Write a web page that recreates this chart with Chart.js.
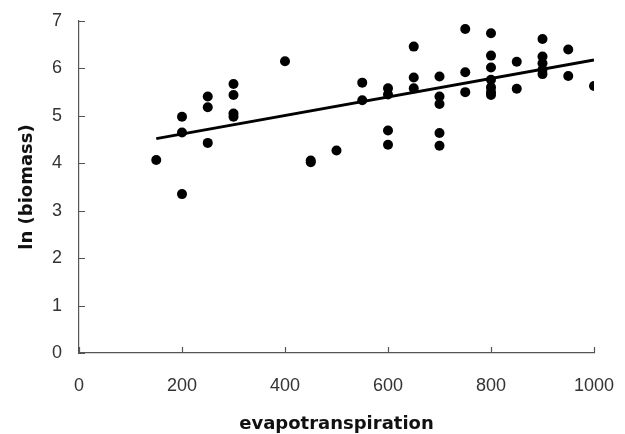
<!DOCTYPE html>
<html>
<head>
<meta charset="utf-8">
<script src="https://cdn.jsdelivr.net/npm/chart.js@4/dist/chart.umd.min.js"></script>
<style>
html,body{margin:0;padding:0;background:#fff;}
#wrap{width:625px;height:434px;position:relative;}
</style>
</head>
<body>
<div id="wrap"><canvas id="c" width="625" height="434"></canvas></div>
<script>
// Data
const evapotranspiration = [150,200,200,200,250,250,250,300,300,300,300,400,450,450,500,550,550,600,600,600,600,650,650,650,700,700,700,700,700,750,750,750,800,800,800,800,800,800,800,850,850,900,900,900,900,900,950,950,1000];
const lnBiomass = [4.07,3.35,4.65,4.98,4.43,5.18,5.41,4.98,5.05,5.44,5.67,6.15,4.02,4.06,4.27,5.33,5.70,4.39,4.69,5.45,5.58,5.58,5.81,6.46,4.37,4.64,5.25,5.41,5.83,5.50,5.92,6.83,5.44,5.50,5.60,5.76,6.02,6.27,6.74,5.57,6.14,5.88,5.97,6.11,6.25,6.62,5.84,6.40,5.63];
const fitX = [150, 1000];
const fitY = [4.52, 6.18];
const xTicks = [0, 200, 400, 600, 800, 1000];
const yTicks = [0, 1, 2, 3, 4, 5, 6, 7];
const xTitle = 'evapotranspiration';
const yTitle = 'ln (biomass)';

const points = evapotranspiration.map((x, i) => ({x: x, y: lnBiomass[i]}));
const fitLine = fitX.map((x, i) => ({x: x, y: fitY[i]}));

const axisColor = '#555';
const inwardTicks = {
  id: 'inwardTicks',
  afterDatasetsDraw(chart) {
    const ctx = chart.ctx;
    const xs = chart.scales.x, ys = chart.scales.y;
    ctx.save();
    ctx.strokeStyle = axisColor;
    ctx.lineWidth = 1.2;
    ctx.beginPath();
    xTicks.forEach(v => {
      const px = Math.round(xs.getPixelForValue(v)) + 0.5;
      ctx.moveTo(px, ys.bottom);
      ctx.lineTo(px, ys.bottom - 6);
    });
    yTicks.forEach(v => {
      const py = Math.round(ys.getPixelForValue(v)) + 0.5;
      ctx.moveTo(xs.left, py);
      ctx.lineTo(xs.left + 6, py);
    });
    ctx.stroke();
    ctx.restore();
  }
};

new Chart(document.getElementById('c'), {
  type: 'scatter',
  data: {
    datasets: [
      {
        type: 'line',
        data: fitLine,
        borderColor: '#000',
        borderWidth: 3,
        pointRadius: 0,
        fill: false,
        order: 2
      },
      {
        type: 'scatter',
        data: points,
        backgroundColor: '#000',
        borderColor: '#000',
        borderWidth: 0,
        pointRadius: 5,
        order: 1
      }
    ]
  },
  options: {
    responsive: false,
    animation: false,
    devicePixelRatio: 1,
    layout: {padding: {top: 21, right: 31, bottom: 0, left: 0}},
    plugins: {legend: {display: false}, tooltip: {enabled: false}},
    scales: {
      x: {
        type: 'linear',
        min: 0, max: 1000,
        afterFit(s) { s.height = 81; s.paddingLeft = 0; s.paddingRight = 0; },
        afterBuildTicks(s) { s.ticks = xTicks.map(v => ({value: v})); },
        grid: {display: false, drawTicks: false},
        border: {display: true, color: axisColor, width: 1.2},
        ticks: {
          padding: 22,
          color: '#333',
          callback: v => String(v),
          font: {family: 'Liberation Sans, Arial, sans-serif', size: 18}
        },
        title: {
          display: true,
          text: xTitle,
          color: '#111',
          padding: {top: 0, bottom: -1},
          font: {family: 'DejaVu Sans, sans-serif', size: 18, weight: 'bold'}
        }
      },
      y: {
        type: 'linear',
        min: 0, max: 7,
        afterFit(s) { s.width = 79; s.paddingTop = 0; s.paddingBottom = 0; },
        afterBuildTicks(s) { s.ticks = yTicks.map(v => ({value: v})); },
        grid: {display: false, drawTicks: false},
        border: {display: true, color: axisColor, width: 1.2},
        ticks: {
          padding: 17,
          color: '#333',
          callback: v => String(v),
          font: {family: 'Liberation Sans, Arial, sans-serif', size: 18}
        },
        title: {
          display: true,
          text: yTitle,
          color: '#111',
          padding: {top: 17, bottom: 0},
          font: {family: 'DejaVu Sans, sans-serif', size: 18, weight: 'bold'}
        }
      }
    }
  },
  plugins: [inwardTicks]
});
</script>
</body>
</html>
